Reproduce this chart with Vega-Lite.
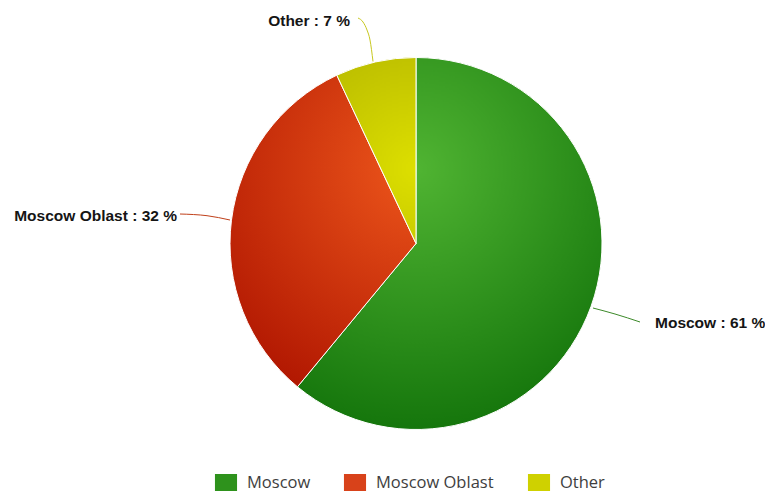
{
  "$schema": "https://vega.github.io/schema/vega-lite/v6.json",
  "width": 698,
  "height": 487,
  "padding": {"left": 67, "top": 0, "right": 0, "bottom": 6},
  "autosize": {"type": "none"},
  "background": "#ffffff",
  "config": {"view": {"stroke": null}},
  "datasets": {
    "slices": [
      {"name": "Moscow", "value": 61},
      {"name": "Moscow Oblast", "value": 32},
      {"name": "Other", "value": 7}
    ],
    "connectors": [
      {"name": "Other", "seq": 1, "dx": -58, "dy": 225.5},
      {"name": "Other", "seq": 2, "dx": -53, "dy": 221.5},
      {"name": "Other", "seq": 3, "dx": -49, "dy": 213.5},
      {"name": "Other", "seq": 4, "dx": -46, "dy": 203.5},
      {"name": "Other", "seq": 5, "dx": -43, "dy": 182},
      {"name": "Moscow Oblast", "seq": 1, "dx": -236, "dy": 29.5},
      {"name": "Moscow Oblast", "seq": 2, "dx": -209, "dy": 27.8},
      {"name": "Moscow Oblast", "seq": 3, "dx": -186, "dy": 23.5},
      {"name": "Moscow", "seq": 1, "dx": 177, "dy": -64.5},
      {"name": "Moscow", "seq": 2, "dx": 199, "dy": -70.5},
      {"name": "Moscow", "seq": 3, "dx": 224, "dy": -78.5}
    ],
    "labels": [
      {"name": "Other", "label": "Other : 7 %", "dx": -66, "dy": 223, "side": "left"},
      {"name": "Moscow Oblast", "label": "Moscow Oblast : 32 %", "dx": -239, "dy": 27.5, "side": "left"},
      {"name": "Moscow", "label": "Moscow : 61 %", "dx": 239, "dy": -79.5, "side": "right"}
    ]
  },
  "layer": [
    {
      "data": {"name": "slices"},
      "transform": [{"stack": "value", "groupby": [], "sort": [{"field": "value", "order": "descending"}], "as": ["start", "end"]}],
      "mark": {"type": "arc", "outerRadius": 186, "stroke": "#ffffff", "strokeWidth": 1},
      "encoding": {
        "theta": {"field": "start", "type": "quantitative", "scale": {"domain": [0, 100]}},
        "theta2": {"field": "end"},
        "color": {
          "field": "name",
          "type": "nominal",
          "scale": {"domain": ["Moscow", "Moscow Oblast", "Other"], "range": ["#2e921c", "#d8421a", "#cfd100"]},
          "legend": {
            "orient": "none",
            "legendX": 150.5,
            "legendY": 474,
            "direction": "horizontal",
            "title": null,
            "padding": 0,
            "symbolType": "M-1.3,-1H1.3V1H-1.3Z",
            "symbolSize": 289,
            "symbolStrokeWidth": 0,
            "symbolOpacity": 1,
            "labelFont": "Open Sans",
            "labelFontSize": 16.5,
            "labelColor": "#3e3e3e",
            "labelOffset": 12.5,
            "columnPadding": 33
          }
        }
      }
    },
    {
      "data": {"name": "slices"},
      "transform": [
        {"stack": "value", "groupby": [], "sort": [{"field": "value", "order": "descending"}], "as": ["start", "end"]},
        {"filter": "datum.name === 'Moscow'"}
      ],
      "mark": {"type": "arc", "outerRadius": 186, "stroke": "#ffffff", "strokeWidth": 1,
        "color": {"gradient": "radial", "x1": 0.41, "y1": 0.3, "r1": 0, "x2": 0.41, "y2": 0.3, "r2": 0.7,
          "stops": [{"offset": 0, "color": "#50B432"}, {"offset": 1, "color": "#15760c"}]}},
      "encoding": {
        "theta": {"field": "start", "type": "quantitative", "scale": {"domain": [0, 100]}},
        "theta2": {"field": "end"}
      }
    },
    {
      "data": {"name": "slices"},
      "transform": [
        {"stack": "value", "groupby": [], "sort": [{"field": "value", "order": "descending"}], "as": ["start", "end"]},
        {"filter": "datum.name === 'Moscow Oblast'"}
      ],
      "mark": {"type": "arc", "outerRadius": 186, "stroke": "#ffffff", "strokeWidth": 1,
        "color": {"gradient": "radial", "x1": 0.8, "y1": 0.3, "r1": 0, "x2": 0.8, "y2": 0.3, "r2": 0.84,
          "stops": [{"offset": 0, "color": "#ED561B"}, {"offset": 1, "color": "#ae1400"}]}},
      "encoding": {
        "theta": {"field": "start", "type": "quantitative", "scale": {"domain": [0, 100]}},
        "theta2": {"field": "end"}
      }
    },
    {
      "data": {"name": "slices"},
      "transform": [
        {"stack": "value", "groupby": [], "sort": [{"field": "value", "order": "descending"}], "as": ["start", "end"]},
        {"filter": "datum.name === 'Other'"}
      ],
      "mark": {"type": "arc", "outerRadius": 186, "stroke": "#ffffff", "strokeWidth": 1,
        "color": {"gradient": "radial", "x1": 0.71, "y1": 0.6, "r1": 0, "x2": 0.71, "y2": 0.6, "r2": 1.4,
          "stops": [{"offset": 0, "color": "#DDDF00"}, {"offset": 1, "color": "#9a9c00"}]}},
      "encoding": {
        "theta": {"field": "start", "type": "quantitative", "scale": {"domain": [0, 100]}},
        "theta2": {"field": "end"}
      }
    },
    {
      "data": {"name": "connectors"},
      "mark": {"type": "line", "strokeWidth": 1, "interpolate": "monotone"},
      "encoding": {
        "x": {"field": "dx", "type": "quantitative", "scale": {"domain": [-349, 349]}, "axis": null},
        "y": {"field": "dy", "type": "quantitative", "scale": {"domain": [-243.5, 243.5]}, "axis": null},
        "detail": {"field": "name"},
        "order": {"field": "seq", "type": "quantitative"},
        "stroke": {
          "field": "name",
          "type": "nominal",
          "scale": {"domain": ["Moscow", "Moscow Oblast", "Other"], "range": ["#3d8a2a", "#c0401a", "#c8c820"]},
          "legend": null
        }
      }
    },
    {
      "data": {"name": "labels"},
      "transform": [{"filter": "datum.side === 'left'"}],
      "mark": {"type": "text", "align": "right", "baseline": "middle", "font": "Liberation Sans", "fontWeight": "bold", "fontSize": 15.5, "fill": "#151515"},
      "encoding": {
        "x": {"field": "dx", "type": "quantitative", "scale": {"domain": [-349, 349]}, "axis": null},
        "y": {"field": "dy", "type": "quantitative", "scale": {"domain": [-243.5, 243.5]}, "axis": null},
        "text": {"field": "label"}
      }
    },
    {
      "data": {"name": "labels"},
      "transform": [{"filter": "datum.side === 'right'"}],
      "mark": {"type": "text", "align": "left", "baseline": "middle", "font": "Liberation Sans", "fontWeight": "bold", "fontSize": 15.5, "fill": "#151515"},
      "encoding": {
        "x": {"field": "dx", "type": "quantitative", "scale": {"domain": [-349, 349]}, "axis": null},
        "y": {"field": "dy", "type": "quantitative", "scale": {"domain": [-243.5, 243.5]}, "axis": null},
        "text": {"field": "label"}
      }
    }
  ]
}
